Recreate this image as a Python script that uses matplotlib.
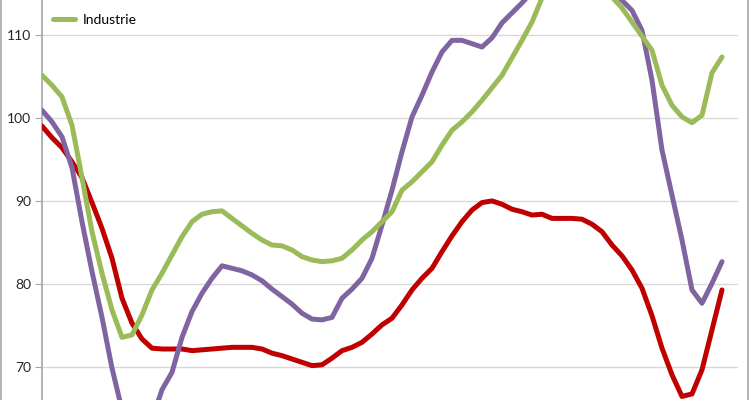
import matplotlib.pyplot as plt
from matplotlib.lines import Line2D
import numpy as np

plt.rcParams['font.family'] = ['Lato', 'DejaVu Sans']

# one point per period
red_vals = [99.0, 97.6, 96.4, 94.7, 92.8, 89.8, 86.7, 83.1, 78.3, 75.3,
            73.4, 72.3, 72.2, 72.2, 72.2, 72.0, 72.1, 72.2, 72.3, 72.4,
            72.4, 72.4, 72.2, 71.7, 71.4, 71.0, 70.6, 70.2, 70.3, 71.1,
            72.0, 72.4, 73.0, 74.0, 75.1, 75.9, 77.5, 79.3, 80.7, 81.9,
            83.9, 85.8, 87.5, 88.9, 89.8, 90.0, 89.6, 89.0, 88.7, 88.3,
            88.4, 87.9, 87.9, 87.9, 87.8, 87.2, 86.3, 84.7, 83.4, 81.7,
            79.5, 76.2, 72.3, 69.1, 66.5, 66.8, 69.7, 74.5, 79.3]
purple_vals = [100.9, 99.5, 97.7, 94.0, 87.5, 81.5, 76.0, 69.9, 64.9, 61.9,
               61.3, 63.7, 67.3, 69.4, 73.6, 76.7, 78.9, 80.7, 82.2, 81.9,
               81.6, 81.1, 80.4, 79.4, 78.5, 77.6, 76.5, 75.8, 75.7, 76.0,
               78.3, 79.4, 80.7, 83.1, 87.1, 91.3, 95.9, 100.1, 102.7, 105.5,
               107.9, 109.3, 109.3, 108.9, 108.5, 109.6, 111.4, 112.6, 113.8, 115.1,
               116.6, 117.8, 118.5, 118.7, 118.4, 117.6, 116.3, 115.1, 114.1, 112.9,
               110.5, 104.5, 96.1, 90.7, 85.3, 79.3, 77.7, 80.1, 82.7]
green_vals = [105.1, 103.9, 102.5, 99.1, 92.8, 86.3, 81.3, 76.9, 73.6, 73.9,
              76.3, 79.3, 81.3, 83.5, 85.7, 87.5, 88.4, 88.7, 88.8, 87.9,
              87.0, 86.1, 85.3, 84.7, 84.6, 84.1, 83.3, 82.9, 82.7, 82.8,
              83.1, 84.1, 85.3, 86.3, 87.5, 88.7, 91.3, 92.3, 93.5, 94.7,
              96.7, 98.5, 99.5, 100.7, 102.1, 103.6, 105.1, 107.2, 109.3, 111.5,
              114.4, 116.0, 117.2, 117.8, 117.5, 116.8, 115.6, 114.5, 113.2, 111.5,
              109.8, 108.1, 103.9, 101.5, 100.1, 99.4, 100.3, 105.4, 107.3]
y_ticks = [70, 80, 90, 100, 110]

x = np.arange(len(red_vals))

fig = plt.figure(figsize=(7.5, 4), dpi=100)
ax = fig.add_axes([42 / 750, 0, (738 - 42) / 750, 1])

for yt in y_ticks:
    ax.axhline(yt, color='#D9D9D9', lw=1, zorder=1)

lw = 3.6
ax.plot(x, red_vals, color='#C00000', lw=lw, solid_capstyle='round', zorder=3)
ax.plot(x, purple_vals, color='#8064A2', lw=lw, solid_capstyle='round', zorder=3)
ax.plot(x, green_vals, color='#9BBB59', lw=lw, solid_capstyle='round', zorder=3)

ax.set_xlim(0, 69.6)
ax.set_ylim(66.07, 114.15)
ax.set_yticks(y_ticks)
ax.set_xticks([])
ax.tick_params(axis='y', length=5, color='#A6A6A6', labelsize=10, labelcolor='#262626', pad=3)
for s in ['top', 'right', 'bottom']:
    ax.spines[s].set_visible(False)
ax.spines['left'].set_color('#A6A6A6')
ax.spines['left'].set_linewidth(1.2)

handle = Line2D([], [], color='#9BBB59', lw=lw, solid_capstyle='round')
ax.legend([handle], ['Industrie'], loc='center left',
          bbox_to_anchor=(53 / 750, 1 - 20 / 400), bbox_transform=fig.transFigure,
          frameon=False, fontsize=10, handlelength=1.6, handletextpad=0.55,
          borderpad=0, borderaxespad=0)

# outer chart border (left and right edges only are visible)
fig.add_artist(Line2D([0.5 / 750, 0.5 / 750], [0, 1], color='#A6A6A6', lw=1.2))
fig.add_artist(Line2D([748 / 750, 748 / 750], [0, 1], color='#A6A6A6', lw=1.2))

plt.savefig('out.png', dpi=100)
